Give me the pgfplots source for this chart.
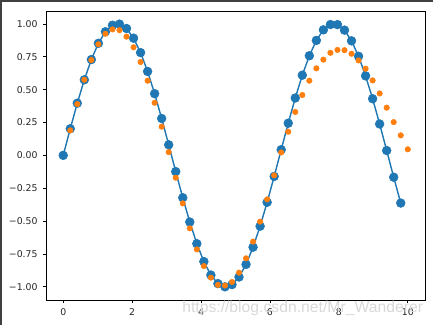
\documentclass[border=0pt]{standalone}
\usepackage{pgfplots}
\pgfplotsset{compat=1.18}
\usepackage{pgfplotstable}
\usepackage{fontspec}
\setmainfont{DejaVu Sans}
\newfontfamily\wmfont{Liberation Sans}
\definecolor{mplblue}{HTML}{1F77B4}
\definecolor{mplorange}{HTML}{FF7F0E}

\pgfplotstableread{
x y
0.0000 0.0000
0.2041 0.2027
0.4082 0.3969
0.6122 0.5747
0.8163 0.7287
1.0204 0.8523
1.2245 0.9404
1.4286 0.9898
1.6327 0.9981
1.8367 0.9648
2.0408 0.8915
2.2449 0.7814
2.4490 0.6385
2.6531 0.4693
2.8571 0.2806
3.0612 0.0803
3.2653 -0.1234
3.4694 -0.3220
3.6735 -0.5071
3.8776 -0.6714
4.0816 -0.8077
4.2857 -0.9104
4.4898 -0.9754
4.6939 -0.9998
4.8980 -0.9829
5.1020 -0.9251
5.3061 -0.8292
5.5102 -0.6982
5.7143 -0.5387
5.9184 -0.3568
6.1224 -0.1601
6.3265 0.0433
6.5306 0.2449
6.7347 0.4364
6.9388 0.6097
7.1429 0.7576
7.3469 0.8744
7.5510 0.9546
7.7551 0.9951
7.9592 0.9943
8.1633 0.9526
8.3673 0.8709
8.5714 0.7536
8.7755 0.6046
8.9796 0.4306
9.1837 0.2388
9.3878 0.0370
9.5918 -0.1663
9.7959 -0.3627
}\truedata

\pgfplotstableread{
x y
0.2041 0.190
0.4082 0.390
0.6122 0.575
0.8163 0.725
1.0204 0.845
1.2245 0.925
1.4286 0.958
1.6327 0.952
1.8367 0.903
2.0408 0.822
2.2449 0.710
2.4490 0.568
2.6531 0.400
2.8571 0.218
3.0612 0.025
3.2653 -0.170
3.4694 -0.365
3.6735 -0.555
3.8776 -0.715
4.0816 -0.842
4.2857 -0.930
4.4898 -0.985
4.6939 -0.990
4.8980 -0.963
5.1020 -0.892
5.3061 -0.783
5.5102 -0.656
5.7143 -0.504
5.9184 -0.335
6.1224 -0.152
6.3265 0.022
6.5306 0.180
6.7347 0.330
6.9388 0.459
7.1429 0.568
7.3469 0.662
7.5510 0.728
7.7551 0.780
7.9592 0.802
8.1633 0.800
8.3673 0.773
8.5714 0.722
8.7755 0.659
8.9796 0.570
9.1837 0.471
9.3878 0.363
9.5918 0.253
9.7959 0.152
10.0000 0.046
}\preddata

\begin{document}
\begin{tikzpicture}
\useasboundingbox (0,0) rectangle (324.75pt,243.75pt);
\fill[white] (0,0) rectangle (324.75pt,243.75pt);
\begin{axis}[
  at={(34.5pt,18.75pt)}, anchor=south west,
  scale only axis, width=284.25pt, height=216.75pt,
  xmin=-0.5, xmax=10.5, ymin=-1.1, ymax=1.098,
  axis line style={black, line width=0.56pt},
  tick style={black, line width=0.56pt},
  tick align=outside, major tick length=2.5pt,
  xtick pos=bottom, ytick pos=left,
  xtick={0,2,4,6,8,10},
  xticklabels={0,2,4,6,8,10},
  ytick={-1,-0.75,-0.5,-0.25,0,0.25,0.5,0.75,1},
  yticklabels={−1.00,−0.75,−0.50,−0.25,0.00,0.25,0.50,0.75,1.00},
  tick label style={font=\fontsize{7}{8}\selectfont, text=black!85},
  xticklabel style={yshift=-0.3pt},
  yticklabel style={xshift=-0.3pt},
  clip=false,
]
\addplot[only marks, mark=*, mark size=3.3pt, color=mplblue, mark options={draw=mplblue, fill=mplblue}] table[x=x,y=y]{\truedata};
\addplot[only marks, mark=*, mark size=2.05pt, color=mplorange, mark options={draw=mplorange, fill=mplorange}] table[x=x,y=y]{\preddata};
\addplot[no marks, color=mplblue, line width=1.06pt] table[x=x,y=y]{\truedata};
\end{axis}
\node[anchor=base west, inner sep=0pt, text=black!15, font=\wmfont\fontsize{11.8}{14}\selectfont] at (136.5pt,9pt) {https://blog.csdn.net/Mr\_Wanderer};
\draw[black!75, line width=1.2pt] (0.6pt,0) -- (0.6pt,243.15pt) -- (324.75pt,243.15pt);
\end{tikzpicture}
\end{document}
